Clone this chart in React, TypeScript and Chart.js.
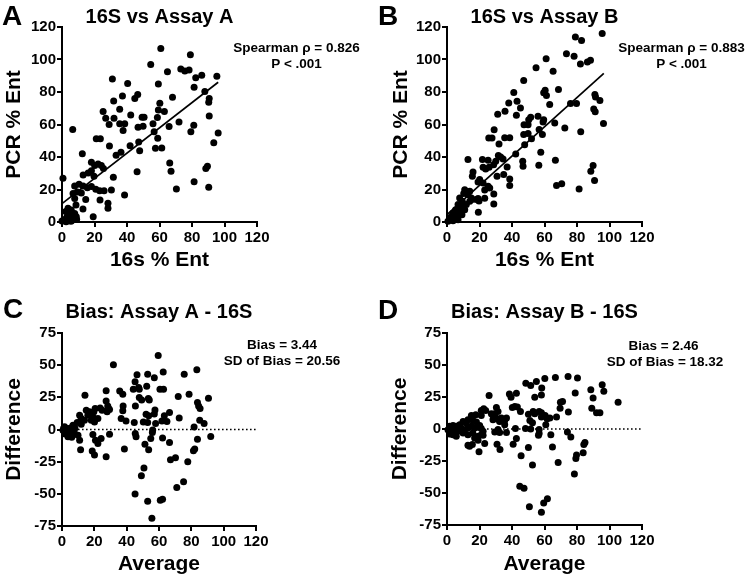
import React, { useEffect, useRef } from "react";
import { Chart, registerables } from "chart.js";

Chart.register(...registerables);

const FONT = "'Liberation Sans', Arial, Helvetica, sans-serif";

// ---- tick values ----
const xTickValues = [0, 20, 40, 60, 80, 100, 120];
const scatterYTickValues = [0, 20, 40, 60, 80, 100, 120];
const biasYTickValues = [-75, -50, -25, 0, 25, 50, 75];

// ---- texts ----
const panelLetters = ["A", "B", "C", "D"];
const panelTitles = ["16S vs Assay A", "16S vs Assay B", "Bias: Assay A - 16S", "Bias: Assay B - 16S"];
const panelNotes = [
  ["Spearman ρ = 0.826", "P < .001"],
  ["Spearman ρ = 0.883", "P < .001"],
  ["Bias = 3.44", "SD of Bias = 20.56"],
  ["Bias = 2.46", "SD of Bias = 18.32"],
];
const xAxisTitles = ["16s % Ent", "16s % Ent", "Average", "Average"];
const yAxisTitles = ["PCR % Ent", "PCR % Ent", "Difference", "Difference"];

// ---- data: panel A (16S %, PCR %) ----
const panelAPoints = [
  [60.8, 106.8], [79, 103], [54.6, 97], [73.1, 94.1], [75.6, 93], [78.2, 93.6], [64.9, 92.4], [86, 90.3],
  [95.3, 89.7], [82.3, 88.7], [31, 88], [40.4, 85.2], [59.3, 85], [81.3, 83], [87.9, 80.3], [46.6, 78.4],
  [44.8, 76], [37.2, 77.6], [68, 76.8], [90.6, 76], [90.3, 73.7], [31.8, 74.5], [60.2, 73.1], [63, 68],
  [35.5, 69.4], [59.3, 69], [25.3, 68], [42.3, 65.9], [49.3, 64.5], [50.5, 64.5], [26.9, 63.9], [32, 63.9],
  [58.7, 64.3], [90.6, 65.3], [35.5, 60.4], [38.6, 60.4], [29, 60], [46.8, 58.3], [49.9, 58.9], [65.9, 58.7],
  [56, 60.4], [72, 61.6], [81.1, 59.5], [6.6, 56.9], [37.6, 56.3], [56.7, 55.6], [79.3, 55.6], [96.1, 54.8],
  [21.1, 51.3], [23.6, 51.3], [58.9, 51.5], [29.2, 46.8], [41.9, 47], [47.2, 49.3], [57.5, 45.4], [61.4, 45.6],
  [93.4, 48.7], [33.3, 41.1], [36.3, 42.9], [47.8, 43.9], [66.3, 36.3], [89.5, 34.3], [88.5, 32.9], [12.5, 42],
  [67.1, 31.2], [46.2, 31], [81.3, 24.8], [90.3, 21.4], [70.4, 20.3], [38.5, 16.6], [31.6, 27.5], [28.3, 11.5],
  [28.3, 8.4], [19.2, 3.3], [0.6, 27], [13, 28.9], [16.1, 30.2], [18.1, 31.6], [20.1, 34.7], [22.2, 35.7],
  [24.2, 34.7], [18.1, 36.7], [25.5, 33], [19.7, 28.1], [7.8, 22.2], [10.5, 23.2], [13, 22.2], [15.6, 21.1],
  [18.1, 21.8], [20.8, 20.2], [23.2, 19.3], [25.9, 19.3], [30.4, 19.7], [6.8, 17.5], [7.8, 14.4], [11.9, 17.9],
  [9.4, 18.5], [14.6, 13.9], [23.4, 13.5], [8.6, 10.5], [12.9, 8], [2.3, 6.4], [3.7, 8.4], [5.1, 5.3],
  [6.8, 4.3], [3.1, 3.3], [4.7, 2.3], [1.6, 1.6], [6.8, 2.3], [8.8, 3.3], [7.8, 5.3], [5.7, 7.4],
  [3.7, 0.8], [0, 0.6], [6, 1], [9, 1.5], [2.5, 0.2], [5.5, 0.5],
];
const panelARegression = [[0, 11.3], [96.1, 86]];

// ---- data: panel B ----
const panelBPoints = [
  [95.5, 116], [79, 113.8], [82.8, 111.7], [73.5, 103.5], [78.2, 102], [61, 100.4], [82.1, 97.3], [86.4, 98.4],
  [88.3, 99.6], [54.8, 94.9], [65.3, 92.8], [47.2, 87.1], [68.6, 81.5], [41.1, 79.7], [60.4, 81.1], [59.5, 79.5],
  [61.2, 77.8], [91, 78.4], [91.4, 77], [43.1, 74.3], [38, 73.3], [45.2, 70.2], [35.7, 68.2], [31.2, 66.3],
  [42.7, 65.7], [63.2, 72.3], [76, 72.9], [79.7, 72.9], [94.1, 74.7], [90.3, 69.6], [91.2, 67.8], [51.5, 64.5],
  [50.3, 63], [56, 65.1], [59.5, 63], [47.4, 59.8], [49.9, 59.8], [59.1, 61.6], [66.3, 61], [96.3, 60.6],
  [29, 56.7], [47.2, 53.8], [49.9, 54.4], [56.7, 56.9], [58.7, 53.8], [72.5, 57.9], [82.3, 55.6], [25.7, 51.7],
  [27.7, 51.7], [35.5, 51.9], [38.6, 51.9], [52, 51.3], [32, 48], [47.8, 47.6], [42.3, 41.9], [57.7, 42.9],
  [31.6, 40.9], [33, 40], [34.5, 38.8], [30, 37.4], [28.7, 35.3], [37, 33.9], [46.6, 37.4], [46.8, 34.3],
  [56.5, 34.9], [66.7, 38], [89.9, 34.7], [88.5, 31.2], [90.8, 25.5], [67.4, 22.4], [70.6, 23.6], [81.3, 20.3],
  [38.6, 26.5], [38.6, 22.4], [12.9, 38.4], [21.8, 38.4], [25.3, 38], [22.2, 33.7], [23.8, 32.6], [25.9, 33.7],
  [16, 30.8], [15.6, 28.1], [30.8, 28.1], [34.9, 29.2], [20.1, 26.1], [19.1, 24.6], [22.2, 24], [25.3, 22],
  [26.3, 21], [28.8, 17.2], [23.2, 14.6], [19.1, 14.4], [15.4, 13.8], [28.8, 11.1], [19.3, 6], [10.9, 19.9],
  [10.3, 17.5], [14, 18.9], [12.9, 16.8], [7.8, 14.8], [9.4, 12.7], [6.8, 10.7], [8.4, 9.7], [5.3, 7.6],
  [7.4, 6.6], [3.7, 5.5], [5.7, 4.5], [2.7, 3.5], [4.7, 2.5], [1.6, 2.1], [3.7, 0.8], [0.6, 0.4],
  [6.8, 1.4], [9.2, 4.5], [10.9, 7.6], [11.9, 10.7], [14, 12.7], [15, 14.8], [23.2, 19.7], [18.1, 13.9],
  [19.7, 12.9],
];
const panelBRegression = [[0, 4.5], [96.5, 91.4]];

// ---- data: panel C (average, difference) ----
const panelCPoints = [
  [59.5, 57.6], [31.8, 50.4], [83.4, 46.5], [46.4, 42.6], [53, 42.9], [57.1, 40.3], [62.6, 44.7], [75.6, 42.9],
  [45.2, 37.2], [47.4, 32.6], [52.4, 33.6], [44.1, 31.3], [47.8, 31.3], [60.6, 31.3], [62.8, 31.3], [35.7, 30],
  [37.6, 27.4], [27.3, 30.2], [78.6, 27.4], [71.9, 25.6], [14.2, 26.6], [90.6, 24.3], [47.8, 24.8], [49.3, 23],
  [53.4, 24], [54, 23], [45.4, 18.3], [37.8, 18.3], [37.6, 14.5], [28.3, 18.3], [28.8, 16.3], [83.8, 20.9],
  [84.5, 18.3], [85.4, 16.3], [66.5, 13.2], [57.5, 15.2], [57.1, 12.1], [52, 11.9], [53.6, 10.6], [72.5, 9],
  [63.3, 10.6], [61.8, 6.7], [64.9, 6.2], [85.2, 7.2], [87.9, 4.7], [39.6, 6.7], [53, 5.4], [50.3, 5.9],
  [57.9, 4.7], [44.7, 5.4], [27.3, 22.2], [23.6, 16.8], [20.5, 16.3], [24.8, 15], [27.9, 13.7], [29.4, 15.5],
  [15, 15], [17, 13.7], [16, 11.1], [19.1, 9.8], [18.1, 7.2], [20.1, 5.9], [22.2, 8.5], [19.7, 13.7],
  [11.9, 8.5], [10.9, 11.1], [13.9, 7.2], [36.6, 8.5], [9.4, 5.4], [6.8, 3.4], [11.9, 4.1], [1.6, 2.1],
  [3.7, 0.8], [5.7, 1.3], [2.7, -1.8], [4.7, -3.1], [6.8, -0.5], [0.6, -0.5], [7.8, -3.1], [3.7, -5.7],
  [5.7, -4.4], [9.9, -4.4], [2, -3.5], [4, -2], [6, -6], [1, 1], [8, 1], [10.9, -8.3],
  [19.1, -3.9], [20.7, -8.3], [22.2, -10.9], [24.2, -7], [29.4, -3.6], [45.3, -3.1], [45.8, -5.7], [11.5, -15.8],
  [18.7, -16.8], [20.1, -19.9], [27.3, -21.2], [38.6, -15.2], [51.3, -11.4], [53.6, -15.8], [50.7, -30], [49.1, -35.9],
  [45.2, -50.1], [53, -55.8], [60.8, -55], [62.2, -54.3], [55.6, -69], [56.1, -0.3], [55.9, -2.3], [54.9, -7],
  [62.2, -6.7], [66.5, -10.1], [67.1, -23.5], [70.2, -22], [71, -45], [75.2, -40.6], [77.8, -25], [81.3, -16.5],
  [82.1, -15.2], [83.8, -7.5], [81.7, 2], [92, -5.4],
];

// ---- data: panel D ----
const panelDPoints = [
  [66.7, 40.3], [74.5, 41.1], [80.3, 39.8], [60.2, 39.5], [55, 37.2], [51.5, 33.9], [48.5, 35.7], [58.3, 32],
  [58.1, 26.6], [54, 24.8], [95.5, 34.6], [88.5, 30.7], [96.5, 29.5], [78.9, 28.2], [89.9, 24.3], [89.1, 16.3],
  [92, 12.7], [94.1, 12.7], [105.3, 20.9], [69.8, 20.9], [71.1, 21.4], [69.6, 16.3], [74.7, 13.2], [67.4, 9.3],
  [25.9, 26.1], [38.4, 27.4], [39.4, 24.8], [42.7, 27.9], [40.2, 16.8], [43.3, 17.1], [45.2, 13.7], [50.1, 11.6],
  [53, 13.7], [54, 11.9], [56.7, 13.7], [58.1, 12.7], [51, 6.7], [52.6, 4.9], [58.1, 9.3], [60.4, 10.6],
  [61.6, 8], [63.3, 8.5], [60.8, 3.4], [42.1, 0.3], [48.3, 0.3], [56.7, -0.3], [56.7, -3.6], [56.3, -4.9],
  [63.9, -4.4], [51.5, 0], [74.1, -2.3], [76.2, -6.2], [64.9, -14], [42.7, -7.5], [40.7, -11.9], [50.1, -14.5],
  [45.6, -20.9], [52.6, -28.2], [68.4, -26.1], [84.2, -12.1], [84.9, -10.6], [83.8, -18.6], [79.7, -20.4], [79.3, -23],
  [78.4, -35.1], [44.8, -44.7], [47.4, -46.3], [50.7, -60.7], [58.1, -65.1], [59.5, -57.9], [61.8, -54.5], [32.6, -16],
  [30.8, -11.9], [23.8, 14.5], [22.6, 15.8], [27.3, 11.9], [28.3, 10.6], [29.4, 11.9], [31.4, 8], [32.4, 6.2],
  [33.5, 8.5], [35.5, 6.7], [35.5, 3.4], [29.4, -2.3], [31.4, -0.3], [32.4, -2.8], [36.6, -2.8], [19.7, -17.8],
  [23.2, -11.4], [19.1, -8.8], [15.6, -12.1], [12.9, -12.7], [17, -7], [22.2, -4.9], [21.1, 0.3], [20.1, 2.8],
  [18.1, 5.4], [16, 6.7], [15, 10.6], [21.1, 10.6], [21.1, 14.5], [17.7, 11.1], [30.4, 16.8], [31.4, 13.7],
  [29.4, 9.8], [36.6, 8.5], [28.3, 7.2], [32.4, 5.9], [41.7, 17.6], [12.9, 7.2], [9.9, 5.9], [11.9, 4.7],
  [7.8, 3.4], [5.7, 2.1], [3.7, 2.8], [1.6, 2.1], [0.6, -0.5], [2.7, -1.8], [4.7, -0.5], [6.8, -1.8],
  [8.8, 0.8], [10.9, -0.5], [12.9, 0.8], [15, 2.1], [17, 0.8], [19.1, 1.3], [22.2, -1.8], [3.7, -4.4],
  [5.7, -5.7], [1.6, -3.9], [9.9, -3.1], [12.9, -4.4], [15.9, -3.1], [19.1, -5.7], [21.1, -4.4], [13.9, -13.4],
];

const zeroLine = [[0, 0], [120, 0]];

const panelPoints = [panelAPoints, panelBPoints, panelCPoints, panelDPoints];
const panelRefLines = [panelARegression, panelBRegression, zeroLine, zeroLine];
const panelRefDashed = [false, false, true, true];
const panelYTicks = [scatterYTickValues, scatterYTickValues, biasYTickValues, biasYTickValues];

// ---- layout (positions & sizes only) ----
const layouts = [
  { left: 0, top: 0, padTop: 27, padRight: 118, yWidth: 62, xHeight: 69, yTitlePad: 2, xTitlePad: 18, letterX: 2, letterY: 25, titleY: 23, noteX: [296.5, 296.5], noteY: [52, 68] },
  { left: 375, top: 0, padTop: 27, padRight: 108, yWidth: 72, xHeight: 69, yTitlePad: 14, xTitlePad: 18, letterX: 3, letterY: 25, titleY: 23, noteX: [306.5, 306.5], noteY: [52, 68] },
  { left: 0, top: 291, padTop: 42, padRight: 119, yWidth: 62, xHeight: 56, yTitlePad: 1.5, xTitlePad: 4.7, letterX: 3, letterY: 27, titleY: 27, noteX: [282, 282], noteY: [58.3, 74] },
  { left: 375, top: 291, padTop: 42, padRight: 108, yWidth: 72, xHeight: 57, yTitlePad: 12.5, xTitlePad: 4.7, letterX: 3, letterY: 28, titleY: 27, noteX: [288.5, 290], noteY: [59, 75] },
];

const W = 375;
const H = 291;

function Panel({ index }: { index: number }) {
  const ref = useRef<HTMLCanvasElement | null>(null);
  useEffect(() => {
    const L = layouts[index];
    const yTicks = panelYTicks[index];
    const textPlugin = {
      id: "panelText",
      afterDraw(chart: any) {
        const ctx = chart.ctx;
        const area = chart.chartArea;
        ctx.save();
        ctx.fillStyle = "#000";
        ctx.textBaseline = "alphabetic";
        ctx.textAlign = "left";
        ctx.font = `bold 28px ${FONT}`;
        ctx.fillText(panelLetters[index], L.letterX, L.letterY);
        ctx.textAlign = "center";
        ctx.font = `bold 20px ${FONT}`;
        ctx.fillText(panelTitles[index], (area.left + area.right) / 2, L.titleY);
        ctx.font = `bold 13.5px ${FONT}`;
        panelNotes[index].forEach((t, i) => ctx.fillText(t, L.noteX[i], L.noteY[i]));
        ctx.restore();
      },
    };
    const tickFont = { size: 15, weight: "bold" as const, family: FONT };
    const titleFont = { size: 21, weight: "bold" as const, family: FONT };
    const chart = new Chart(ref.current as HTMLCanvasElement, {
      type: "scatter",
      data: {
        datasets: [
          {
            data: panelRefLines[index].map(([x, y]) => ({ x, y })),
            showLine: true,
            borderColor: "#000",
            borderWidth: panelRefDashed[index] ? 1.6 : 1.7,
            borderDash: panelRefDashed[index] ? [1.6, 2.4] : [],
            pointRadius: 0,
            pointHoverRadius: 0,
            clip: false as any,
            order: 2,
          },
          {
            data: panelPoints[index].map(([x, y]) => ({ x, y })),
            backgroundColor: "#000",
            borderColor: "#000",
            borderWidth: 0,
            pointRadius: 3.5,
            pointHoverRadius: 3.5,
            clip: false as any,
            order: 1,
          },
        ],
      },
      options: {
        responsive: false,
        animation: false,
        devicePixelRatio: 1,
        events: [],
        layout: { padding: { left: 0, top: L.padTop, right: L.padRight, bottom: 0 } },
        plugins: { legend: { display: false }, tooltip: { enabled: false }, title: { display: false } },
        scales: {
          x: {
            type: "linear",
            min: 0,
            max: 120,
            afterBuildTicks: (s: any) => { s.ticks = xTickValues.map((v) => ({ value: v })); },
            afterFit: (s: any) => { s.height = L.xHeight; },
            grid: { display: true, drawOnChartArea: false, drawTicks: true, tickLength: 5, color: "#000", lineWidth: 2 },
            border: { display: true, color: "#000", width: 2 },
            ticks: { color: "#000", font: tickFont, padding: 2, maxRotation: 0, autoSkip: false },
            title: { display: true, text: xAxisTitles[index], color: "#000", font: titleFont, padding: { top: 0, bottom: L.xTitlePad } },
          },
          y: {
            type: "linear",
            min: yTicks[0],
            max: yTicks[yTicks.length - 1],
            afterBuildTicks: (s: any) => { s.ticks = yTicks.map((v) => ({ value: v })); },
            afterFit: (s: any) => { s.width = L.yWidth; },
            grid: { display: true, drawOnChartArea: false, drawTicks: true, tickLength: 5, color: "#000", lineWidth: 2 },
            border: { display: true, color: "#000", width: 2 },
            ticks: { color: "#000", font: tickFont, padding: 1, autoSkip: false },
            title: { display: true, text: yAxisTitles[index], color: "#000", font: titleFont, padding: { top: L.yTitlePad, bottom: 0 } },
          },
        },
      },
      plugins: [textPlugin],
    });
    return () => chart.destroy();
  }, [index]);
  const L = layouts[index];
  return (
    <canvas
      ref={ref}
      width={W}
      height={H}
      style={{ position: "absolute", left: L.left, top: L.top, width: W, height: H }}
    />
  );
}

export default function App() {
  return (
    <div style={{ position: "absolute", left: 0, top: 0, width: 750, height: 582, background: "#fff", overflow: "hidden" }}>
      {[0, 1, 2, 3].map((i) => (
        <Panel key={i} index={i} />
      ))}
    </div>
  );
}
